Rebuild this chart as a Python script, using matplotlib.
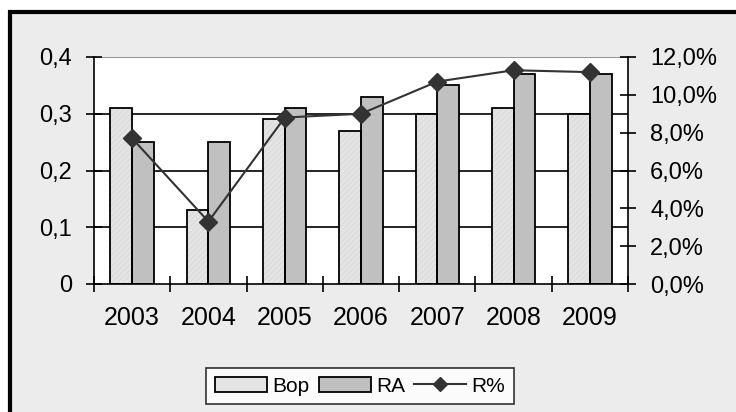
import matplotlib
matplotlib.use("Agg")
import matplotlib.pyplot as plt
import numpy as np
from matplotlib.patches import Rectangle, Patch

years = ["2003", "2004", "2005", "2006", "2007", "2008", "2009"]
bop = [0.31, 0.13, 0.29, 0.27, 0.30, 0.31, 0.30]
ra = [0.25, 0.25, 0.31, 0.33, 0.35, 0.37, 0.37]
r_pct = [7.7, 3.3, 8.8, 9.0, 10.7, 11.3, 11.2]

plt.rcParams["font.family"] = ["Liberation Sans", "DejaVu Sans"]
plt.rcParams["hatch.linewidth"] = 0.5

fig = plt.figure(figsize=(7.36, 4.12), dpi=100)
fig.patch.set_facecolor("white")
# outer chart frame
fig.patches.append(Rectangle((10 / 736, -0.05), 1.0, 1.05 - 12 / 412, transform=fig.transFigure,
                             facecolor="#ececec", edgecolor="black", linewidth=3, zorder=-5))

ax = fig.add_axes([94 / 736, 1 - 284 / 412, (628 - 94) / 736, (284 - 57) / 412])
ax.set_facecolor("white")
x = np.arange(len(years))
w = 0.285
# light stippled bars: hatch layer then black outline
ax.bar(x - w / 2, bop, w, color="#e4e4e4", edgecolor="#d6d6d6", linewidth=0, hatch="//////", zorder=2)
ax.bar(x - w / 2, bop, w, facecolor="none", edgecolor="black", linewidth=1.3, zorder=2.1)
ax.bar(x + w / 2, ra, w, color="#c0c0c0", edgecolor="black", linewidth=1.3, zorder=2)

ax.set_xlim(-0.5, len(years) - 0.5)
ax.set_ylim(0, 0.4)
ax.set_yticks([0, 0.1, 0.2, 0.3, 0.4])
ax.set_yticklabels(["0", "0,1", "0,2", "0,3", "0,4"], fontsize=17)
for v in [0.1, 0.2, 0.3]:
    ax.axhline(v, color="black", linewidth=1.2, zorder=1)
ax.axhline(0.4, color="#808080", linewidth=1.2, zorder=1)

ax.set_xticks(x)
ax.set_xticklabels(years, fontsize=18)
ax.tick_params(axis="x", length=0, pad=16)
ax.set_xticks(np.arange(-0.5, len(years)), minor=True)
ax.tick_params(axis="x", which="minor", length=12, width=1.2, direction="inout")
ax.tick_params(axis="y", length=12, width=1.2, direction="inout", pad=10)
for s in ["top", "right"]:
    ax.spines[s].set_visible(False)
ax.spines["left"].set_linewidth(1.2)
ax.spines["bottom"].set_linewidth(1.2)

ax2 = ax.twinx()
ax2.plot(x, r_pct, color="#333333", marker="D", markersize=9, linewidth=1.5, zorder=3)
ax2.set_ylim(0, 12)
ax2.set_yticks(np.arange(0, 13, 2))
ax2.set_yticklabels([f"{v:.1f}%".replace(".", ",") for v in np.arange(0, 13, 2)], fontsize=17)
ax2.tick_params(axis="y", length=12, width=1.2, direction="inout", pad=10)
for s in ["top", "left", "bottom"]:
    ax2.spines[s].set_visible(False)
ax2.spines["right"].set_linewidth(1.2)

handles = [
    Patch(facecolor="#e4e4e4", edgecolor="black", linewidth=1.3),
    Patch(facecolor="#c0c0c0", edgecolor="black", linewidth=1.3),
    plt.Line2D([], [], color="#333333", marker="D", markersize=7, linewidth=1.5),
]
leg = fig.legend(handles, ["Bop", "RA", "R%"], loc="center", bbox_to_anchor=(360 / 736, 1 - 386 / 412),
                 ncol=3, fontsize=15, frameon=True, fancybox=False, edgecolor="black",
                 handlelength=2.5, handletextpad=0.25, columnspacing=0.45, borderpad=0.4,
                 borderaxespad=0)
leg.get_frame().set_linewidth(1.2)

fig.savefig("out.png", dpi=100)
